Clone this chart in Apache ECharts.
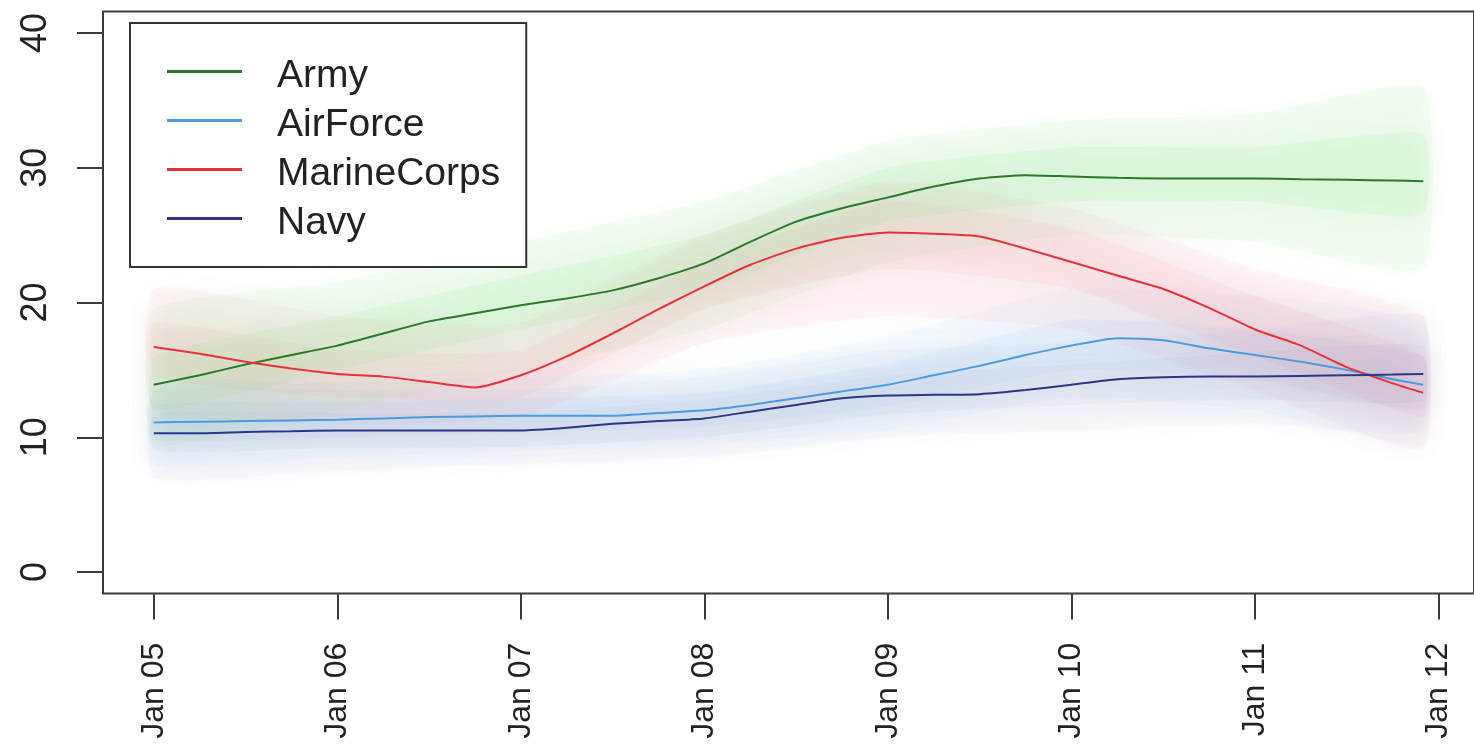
<!DOCTYPE html>
<html>
<head>
<meta charset="utf-8">
<script src="https://cdn.jsdelivr.net/npm/echarts@6/dist/echarts.min.js"></script>
<style>
  html, body { margin: 0; padding: 0; background: #fff; }
  #chart { width: 1474px; height: 746px; }
</style>
</head>
<body>
<div id="chart"></div>
<script>
// Monthly series, Jan 2005 .. Dec 2011, sampled every quarter (months since Jan 2005)
const months = [0, 3, 6, 9, 12, 15, 18, 21, 24, 27, 30, 33, 36, 39, 42, 45, 48, 51, 54, 57, 60, 63, 66, 69, 72, 75, 78, 81, 83];

const army = [13.9, 14.6, 15.4, 16.1, 16.8, 17.7, 18.6, 19.2, 19.8, 20.3, 20.9, 21.8, 22.9, 24.5, 26.0, 27.0, 27.8, 28.6, 29.2, 29.45, 29.35, 29.25, 29.2, 29.2, 29.2, 29.15, 29.1, 29.05, 29.0];
const airForce = [11.1, 11.15, 11.2, 11.25, 11.3, 11.4, 11.5, 11.55, 11.6, 11.6, 11.6, 11.8, 12.0, 12.4, 12.9, 13.4, 13.9, 14.6, 15.3, 16.1, 16.8, 17.35, 17.2, 16.6, 16.1, 15.6, 15.0, 14.3, 13.9];
const marineCorps = [16.7, 16.2, 15.6, 15.1, 14.7, 14.5, 14.1, 13.7, 14.6, 16.0, 17.7, 19.5, 21.2, 22.8, 24.0, 24.8, 25.2, 25.1, 24.9, 24.0, 23.0, 22.0, 21.0, 19.6, 18.0, 16.8, 15.2, 14.0, 13.3];
const navy = [10.3, 10.3, 10.4, 10.45, 10.5, 10.5, 10.5, 10.5, 10.5, 10.7, 11.0, 11.2, 11.4, 11.9, 12.4, 12.9, 13.1, 13.15, 13.2, 13.5, 13.9, 14.3, 14.45, 14.5, 14.5, 14.55, 14.6, 14.65, 14.7];

// Spread of the simulated paths around each series (yearly knots)
const bandMonths = [0, 12, 24, 36, 48, 60, 72, 83];
const armyOuterLow   = [9.5, 12, 15, 18, 23, 25, 24.5, 22.5];
const armyOuterHigh  = [19.5, 21.5, 24.5, 27.5, 32, 33.5, 34, 36];
const armyInnerLow   = [12, 15, 18, 21, 26, 27.5, 27.5, 26.5];
const armyInnerHigh  = [16, 19, 22, 25, 30, 31.5, 31.5, 32.5];
const marineOuterLow  = [12, 11, 11.5, 17, 19, 18, 13.5, 9];
const marineOuterHigh = [21, 19, 18.5, 25, 29, 27, 22.5, 19];
const marineInnerLow  = [14.5, 13, 13, 19.5, 22.5, 21, 16, 11.5];
const marineInnerHigh = [18.5, 16.5, 16.5, 23, 27.5, 25.5, 20.5, 16];
const airOuterLow  = [8, 8.5, 9, 9.5, 10.5, 13, 12, 9.5];
const airOuterHigh = [14, 14, 14.5, 15, 17.5, 21, 20.5, 18.5];
const airInnerLow  = [9.8, 10, 10.4, 10.8, 12.3, 15, 14.3, 12];
const airInnerHigh = [12.4, 12.6, 12.9, 13.3, 15.5, 18.7, 18, 16];
const navyOuterLow  = [7, 7.5, 8, 8.5, 10, 10.5, 11, 10.5];
const navyOuterHigh = [13.5, 13.5, 13.5, 14.5, 16.5, 17, 18, 19];
const navyInnerLow  = [9, 9.2, 9.3, 10, 11.7, 12.4, 12.8, 12.7];
const navyInnerHigh = [11.7, 11.8, 11.8, 12.8, 14.6, 15.4, 16.3, 16.8];

const yearTicks = [2005, 2006, 2007, 2008, 2009, 2010, 2011, 2012];
const yearLabels = ['Jan 05', 'Jan 06', 'Jan 07', 'Jan 08', 'Jan 09', 'Jan 10', 'Jan 11', 'Jan 12'];
const yTicks = [0, 10, 20, 30, 40];

const toYear = m => 2005 + m / 12;
const pairs = (ms, vals) => ms.map((m, i) => [toYear(m), vals[i]]);

// Plot limits padded 4% beyond the data range on both axes
const xFirst = toYear(months[0]), xLast = toYear(months[months.length - 1]);
const xPad = (xLast - xFirst) * 0.04;
const yPad = (40 - 0) * 0.04;

const font = 'Liberation Sans, Arial, sans-serif';

// A soft translucent band between a lower and an upper edge
function band(name, low, high, color, opacity) {
  return {
    type: 'custom', name: name, silent: true, z: 1,
    data: bandMonths.map((m, i) => [toYear(m), low[i], high[i]]),
    encode: { x: 0, y: [1, 2] },
    renderItem: function (params, api) {
      if (params.dataIndexInside !== 0) return null;
      const n = params.dataInsideLength;
      const upper = [], lower = [];
      for (let i = 0; i < n; i++) {
        upper.push(api.coord([api.value(0, i), api.value(2, i)]));
        lower.push(api.coord([api.value(0, i), api.value(1, i)]));
      }
      return {
        type: 'polygon',
        shape: { points: upper.concat(lower.reverse()), smooth: 0.15 },
        style: { fill: color, opacity: opacity, shadowBlur: 26, shadowColor: color }
      };
    }
  };
}

function mainLine(name, vals, color) {
  return {
    type: 'line', name: name, data: pairs(months, vals), color: color,
    smooth: 0.2, symbol: 'none', lineStyle: { width: 2, color: color }, z: 5
  };
}

const series = [
  band('navyOuter', navyOuterLow, navyOuterHigh, '#8890b8', 0.045),
  band('navyInner', navyInnerLow, navyInnerHigh, '#8890b8', 0.05),
  band('airOuter', airOuterLow, airOuterHigh, '#6aaee8', 0.045),
  band('airInner', airInnerLow, airInnerHigh, '#6aaee8', 0.06),
  band('marineOuter', marineOuterLow, marineOuterHigh, '#f06070', 0.045),
  band('marineInner', marineInnerLow, marineInnerHigh, '#f06070', 0.06),
  band('armyOuter', armyOuterLow, armyOuterHigh, '#5fcf5f', 0.05),
  band('armyInner', armyInnerLow, armyInnerHigh, '#5fcf5f', 0.07),
  mainLine('Army', army, '#2a7a2a'),
  mainLine('AirForce', airForce, '#4a9be0'),
  mainLine('MarineCorps', marineCorps, '#e8323a'),
  mainLine('Navy', navy, '#2e3585')
];

const chart = echarts.init(document.getElementById('chart'), null, { renderer: 'canvas' });
chart.setOption({
  animation: false,
  backgroundColor: '#fff',
  grid: {
    show: true, left: 103, right: -10, top: 11.4, bottom: 152.4,
    borderColor: '#3a3a3a', borderWidth: 2, backgroundColor: 'transparent'
  },
  xAxis: {
    type: 'value', min: xFirst - xPad, max: xLast + xPad,
    splitLine: { show: false }, axisLine: { show: false, onZero: false },
    axisTick: { show: true, length: 26, customValues: yearTicks, lineStyle: { color: '#3a3a3a', width: 2 } },
    axisLabel: {
      customValues: yearTicks, rotate: 90, margin: 49, fontSize: 32, fontFamily: font, color: '#222',
      formatter: v => yearLabels[yearTicks.indexOf(Math.round(v))]
    }
  },
  yAxis: {
    type: 'value', min: 0 - yPad, max: 40 + yPad,
    splitLine: { show: false }, axisLine: { show: false, onZero: false },
    axisTick: { show: true, length: 26, customValues: yTicks, lineStyle: { color: '#3a3a3a', width: 2 } },
    axisLabel: {
      customValues: yTicks, rotate: 90, margin: 49, fontSize: 36, fontFamily: font, color: '#222',
      formatter: v => String(Math.round(v))
    }
  },
  legend: {
    left: 130, top: 23, orient: 'vertical', selectedMode: false,
    data: ['Army', 'AirForce', 'MarineCorps', 'Navy'],
    icon: 'rect', itemWidth: 75, itemHeight: 3, itemGap: 0,
    padding: [24, 26, 24, 37],
    backgroundColor: '#fff', borderColor: '#333', borderWidth: 2,
    formatter: '{n|{name}}',
    textStyle: {
      rich: {
        n: { fontSize: 39, fontFamily: font, color: '#222', lineHeight: 35, padding: [10, 0, 0, 30] }
      }
    }
  },
  series: series
});
</script>
</body>
</html>
